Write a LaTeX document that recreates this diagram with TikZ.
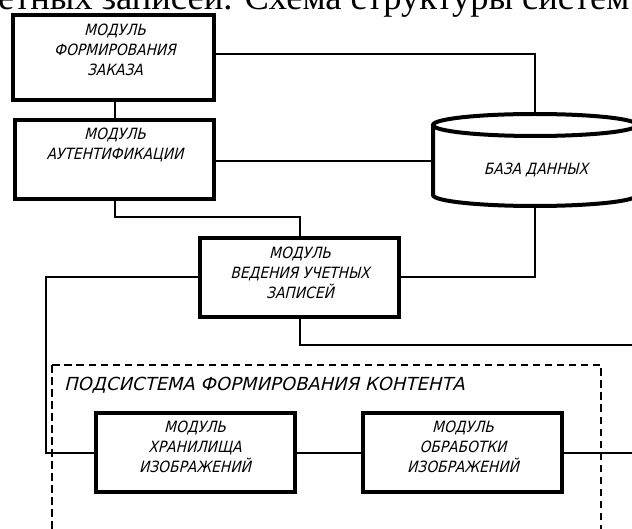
\documentclass[tikz,border=0pt]{standalone}
\usepackage{fontspec}
\newfontfamily\gost[FakeSlant=0.24,FakeStretch=0.89]{DejaVu Sans}
\newfontfamily\gostw[FakeSlant=0.24,FakeStretch=1.0]{DejaVu Sans}
\newfontfamily\capfont{Liberation Serif}
\begin{document}
\begin{tikzpicture}[x=1pt,y=-1pt,
  box/.style={draw, line width=4pt, minimum width=199pt, minimum height=79pt, inner sep=0pt},
  conn/.style={line width=2pt},
  lbl/.style={align=center, inner sep=0pt, font=\gost\fontsize{15.5}{20}\selectfont},
  sublbl/.style={anchor=west, inner sep=0pt, font=\gostw\fontsize{18}{20}\selectfont},
  frame/.style={line width=1.5pt, dash pattern=on 7.5pt off 4.5pt},
  dbline/.style={line width=4pt}]
\useasboundingbox (0,0) rectangle (632,529);
\clip (0,0) rectangle (632,529);
% caption fragment
\node[anchor=base west, inner sep=0pt, font=\capfont\fontsize{36.5}{38}\selectfont] (cap) at (-2,9.5) {етных записей. Схема структуры систем};
% boxes
\node[box, minimum width=201pt, minimum height=85pt] (b1) at (113.5,57.5) {};
\node[box] (b2) at (114,160) {};
\node[box] (b3) at (299.5,277.5) {};
\node[box] (b4) at (195,452.5) {};
\node[box] (b5) at (462,452.5) {};
\node[lbl] (t1) at (115,50) {МОДУЛЬ\\ФОРМИРОВАНИЯ\\ЗАКАЗА};
\node[lbl] (t2) at (115,145) {МОДУЛЬ\\АУТЕНТИФИКАЦИИ};
\node[lbl] (t3) at (300,273) {МОДУЛЬ\\ВЕДЕНИЯ УЧЕТНЫХ\\ЗАПИСЕЙ};
\node[lbl] (t4) at (195,447) {МОДУЛЬ\\ХРАНИЛИЩА\\ИЗОБРАЖЕНИЙ};
\node[lbl] (t5) at (463,447) {МОДУЛЬ\\ОБРАБОТКИ\\ИЗОБРАЖЕНИЙ};
% database cylinder
\coordinate (dbtop) at (535,114);
\coordinate (dbbot) at (535,206);
\coordinate (dbleft) at (433,161);
\draw[dbline] (535,125) ellipse [x radius=102pt, y radius=11pt];
\draw[dbline] (433,125) -- (433,195) arc[start angle=180, end angle=360, x radius=102pt, y radius=11pt] -- (637,125);
\node[lbl] (tdb) at (536,170) {БАЗА ДАННЫХ};
% subsystem frame
\draw[frame] (52,365) rectangle (601,540);
\node[sublbl] (tsub) at (64,385) {ПОДСИСТЕМА ФОРМИРОВАНИЯ КОНТЕНТА};
% connectors
\coordinate (L) at (46,0);
\coordinate (R) at (640,0);
\draw[conn] (b1.east |- 0,54) -| (dbtop);
\draw[conn] (b1.south -| 115,0) -- (b2.north -| 115,0);
\draw[conn] (b2.east |- dbleft) -- (dbleft);
\draw[conn] (b2.south -| 115,0) -- (115,217) -| (b3.north);
\draw[conn] (b3.east) -| (dbbot);
\draw[conn] (b3.west) -| (L |- b4.west) -- (b4.west);
\draw[conn] (b3.south) |- (R |- 0,345);
\draw[conn] (b4.east) -- (b5.west);
\draw[conn] (b5.east) -- (R |- b5.east);
\end{tikzpicture}
\end{document}
